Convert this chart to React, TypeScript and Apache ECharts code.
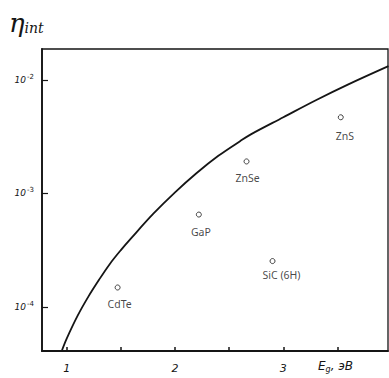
import React, { useEffect, useRef } from 'react';
import * as echarts from 'echarts';

// Theoretical curve: band gap (eV) vs internal efficiency
const curveEg = [0.955, 1.0, 1.1, 1.2, 1.3, 1.4, 1.5, 1.6, 1.8, 2.0, 2.2, 2.4, 2.6, 2.7, 3.0, 3.3, 3.6, 3.97];
const curveEta = [4.1e-5, 5.25e-5, 8.32e-5, 1.23e-4, 1.74e-4, 2.4e-4, 3.16e-4, 4.07e-4, 6.61e-4, 1.02e-3, 1.51e-3, 2.14e-3, 2.88e-3, 3.31e-3, 4.68e-3, 6.61e-3, 9.12e-3, 1.32e-2];

// Experimental materials
const materials = ['ZnS', 'ZnSe', 'GaP', 'SiC (6H)', 'CdTe'];
const materialEg = [3.53, 2.66, 2.22, 2.9, 1.47];
const materialEta = [4.68e-3, 1.91e-3, 6.5e-4, 2.53e-4, 1.48e-4];

// Label placement (style only)
const labelOffsets: number[][] = [[4, 19], [1, 17], [2, 17], [9, 14], [2, 17]];

const xTickLabels = ['1', '2', '3'];

export default function App() {
  const ref = useRef<HTMLDivElement>(null);
  useEffect(() => {
    if (!ref.current) return;
    const chart = echarts.init(ref.current, undefined, { renderer: 'svg' });
    const ink = '#151515';
    const option: any = {
      animation: false,
      backgroundColor: '#ffffff',
      grid: {
        left: 42, top: 49, right: 1, bottom: 27,
        show: true, borderColor: ink, borderWidth: 1.3, backgroundColor: 'transparent',
      },
      xAxis: {
        type: 'value',
        min: 0.772,
        max: 3.966,
        splitNumber: 6,
        axisLine: { show: true, lineStyle: { color: ink, width: 1.8 } },
        axisTick: { show: true, inside: true, length: 4, lineStyle: { color: ink, width: 1.5 } },
        splitLine: { show: false },
        axisLabel: {
          margin: 12,
          color: ink,
          fontSize: 11,
          fontStyle: 'italic',
          fontFamily: 'DejaVu Sans',
          showMinLabel: false,
          showMaxLabel: false,
          formatter: (v: number) => {
            const s = String(Math.round(v));
            return Math.abs(v - Math.round(v)) < 1e-6 && xTickLabels.includes(s) ? s : '';
          },
        },
      },
      yAxis: {
        type: 'log',
        logBase: 10,
        min: 4.08e-5,
        max: 1.87e-2,
        axisLine: { show: true, lineStyle: { color: ink, width: 1.8 } },
        axisTick: { show: true, inside: true, length: 6, lineStyle: { color: ink, width: 1.2 } },
        splitLine: { show: false },
        axisLabel: {
          margin: 8,
          color: ink,
          showMinLabel: false,
          showMaxLabel: false,
          formatter: (v: number) => {
            const e = Math.log10(v);
            const r = Math.round(e);
            if (Math.abs(e - r) > 1e-4) return '';
            return '{b|10}{s|' + r + '}';
          },
          rich: {
            b: { fontSize: 9, fontFamily: 'DejaVu Sans', color: ink, fontStyle: 'italic' },
            s: { fontSize: 7, fontFamily: 'DejaVu Sans', color: ink, verticalAlign: 'top', padding: [0, 0, 6, 1] },
          },
        },
      },
      graphic: [
        {
          type: 'text',
          left: 9,
          top: 10,
          style: {
            text: '{a|η}{b|int}',
            rich: {
              a: { fontSize: 26, fontStyle: 'italic', fontFamily: 'DejaVu Serif', fill: ink, color: ink },
              b: { fontSize: 14, fontStyle: 'italic', fontFamily: 'DejaVu Serif', fill: ink, color: ink, padding: [10, 0, 0, 0] },
            },
          },
        },
        {
          type: 'text',
          left: 318,
          top: 360,
          style: {
            text: '{e|E}{g|g}{e|, эВ}',
            rich: {
              e: { fontSize: 12, fontStyle: 'italic', fontFamily: 'DejaVu Sans', fill: ink, color: ink },
              g: { fontSize: 8, fontStyle: 'italic', fontFamily: 'DejaVu Sans', fill: ink, color: ink, padding: [6, 0, 0, 0] },
            },
          },
        },
      ],
      series: [
        {
          type: 'line',
          data: curveEg.map((x, i) => [x, curveEta[i]]),
          smooth: 0.35,
          showSymbol: false,
          clip: true,
          lineStyle: { color: ink, width: 1.8 },
          z: 2,
        },
        {
          type: 'scatter',
          symbol: 'circle',
          symbolSize: 5,
          itemStyle: { color: '#ffffff', borderColor: ink, borderWidth: 1 },
          data: materials.map((m, i) => ({
            name: m,
            value: [materialEg[i], materialEta[i]],
            label: {
              show: true,
              position: 'inside',
              offset: labelOffsets[i],
              formatter: m,
              color: ink,
              fontSize: 10.5,
              fontFamily: 'Noto Sans',
            },
          })),
          z: 3,
        },
      ],
    };
    chart.setOption(option);
    return () => chart.dispose();
  }, []);
  return (
    <div
      ref={ref}
      style={{ position: 'fixed', left: 0, top: 0, width: 389, height: 378, background: '#fff' }}
    />
  );
}
